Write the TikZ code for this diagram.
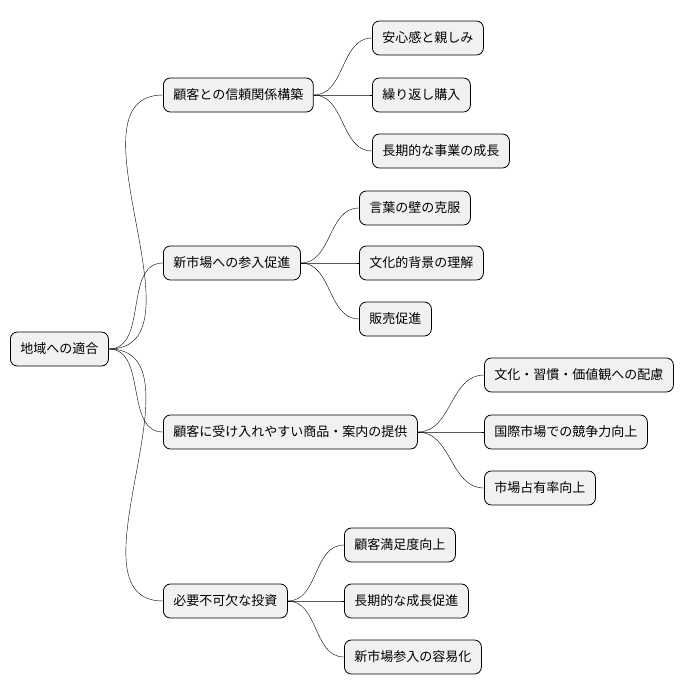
\documentclass[tikz,border=0pt]{standalone}
\usepackage{fontspec}
\setmainfont{Noto Sans CJK JP}
\usepackage{tikz}
\definecolor{boxfill}{HTML}{F1F1F1}
\begin{document}
\begin{tikzpicture}[x=1pt,y=-1pt]
	\tikzstyle{every node}=[font=\fontsize{13}{15}\selectfont]
	\tikzstyle{topic}=[draw=black, thick, fill=boxfill, rounded corners=7pt, minimum height=34pt, inner xsep=10pt, anchor=west]
	\tikzstyle{link}=[black, thin]
	\useasboundingbox (0,0) rectangle (698,696);
	
	\node [topic] (root) at (10,349) {地域への適合};
	
	\node [topic] (trust) at (163,95) {顧客との信頼関係構築};
	\node [topic] (market) at (163,263) {新市場への参入促進};
	\node [topic] (goods) at (163,432) {顧客に受け入れやすい商品・案内の提供};
	\node [topic] (invest) at (163,601) {必要不可欠な投資};
	
	\node [topic] (t1) at (372,38) {安心感と親しみ};
	\node [topic] (t2) at (372,95) {繰り返し購入};
	\node [topic] (t3) at (372,151) {長期的な事業の成長};
	
	\node [topic] (m1) at (359,208) {言葉の壁の克服};
	\node [topic] (m2) at (359,263) {文化的背景の理解};
	\node [topic] (m3) at (359,319) {販売促進};
	
	\node [topic] (g1) at (484,375) {文化・習慣・価値観への配慮};
	\node [topic] (g2) at (484,432) {国際市場での競争力向上};
	\node [topic] (g3) at (484,488) {市場占有率向上};
	
	\node [topic] (i1) at (344,545) {顧客満足度向上};
	\node [topic] (i2) at (344,601) {長期的な成長促進};
	\node [topic] (i3) at (344,657) {新市場参入の容易化};
	
	\foreach \c in {trust,market,goods,invest}
		\draw [link] (root.east) to[out=0,in=180] (\c.west);
	\foreach \c in {t1,t2,t3}
		\draw [link] (trust.east) to[out=0,in=180] (\c.west);
	\foreach \c in {m1,m2,m3}
		\draw [link] (market.east) to[out=0,in=180] (\c.west);
	\foreach \c in {g1,g2,g3}
		\draw [link] (goods.east) to[out=0,in=180] (\c.west);
	\foreach \c in {i1,i2,i3}
		\draw [link] (invest.east) to[out=0,in=180] (\c.west);
\end{tikzpicture}
\end{document}
